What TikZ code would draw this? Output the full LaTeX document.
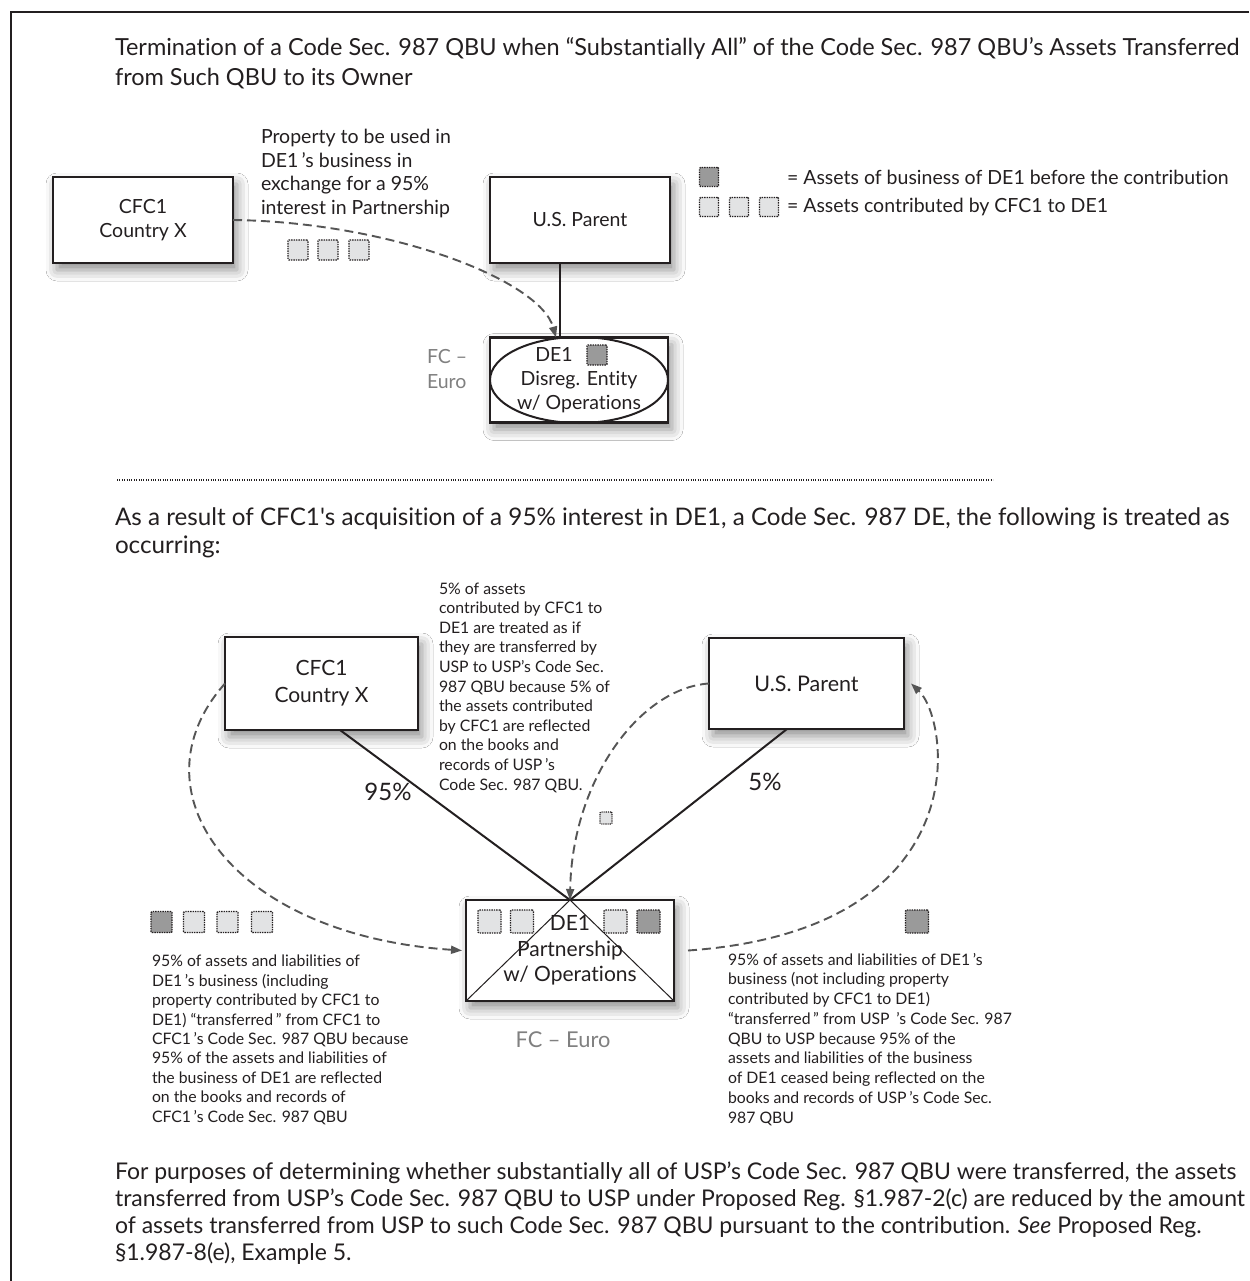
\documentclass[tikz,border=0pt]{standalone}
\usepackage{fontspec}
\setmainfont{Lato}[Ligatures={TeX,NoCommon}]
\usetikzlibrary{arrows.meta,shapes.geometric,shadows.blur,calc}
\definecolor{ink}{HTML}{231F20}
\definecolor{dgray}{HTML}{555555}
\definecolor{sqdark}{HTML}{9A9A9A}
\definecolor{sqlight}{HTML}{E2E3E4}
\definecolor{fcgray}{HTML}{808080}
\begin{document}
\begin{tikzpicture}[x=1pt,y=-1pt,
  every node/.style={inner sep=0pt, outer sep=0pt, text=ink},
  entity/.style={draw=ink, line width=2.5pt, fill=white, minimum width=180pt, minimum height=86pt,
    align=center, font=\fontsize{19.5}{24}\selectfont,
    blur shadow={shadow xshift=4pt, shadow yshift=-7pt, shadow blur radius=11pt, shadow opacity=45}},
  sqd/.style={draw=ink, densely dotted, line width=1.4pt, fill=sqdark, minimum size=20pt, rounded corners=1pt},
  sql/.style={sqd, fill=sqlight},
  flow/.style={draw=dgray, dash pattern=on 9pt off 5pt, line width=1.9pt, -{Triangle[length=11pt,width=8pt]}},
  tie/.style={draw=ink, line width=2pt},
  txt/.style={anchor=north west, align=left},
]
\useasboundingbox (0,0) rectangle (1249,1281);
\fill[white] (0,0) rectangle (1249,1281);
\draw[ink, line width=1.3pt] (1249,12) -- (11,12) -- (11,1281);

% ---------- title
\node[txt, font=\fontsize{23.5}{30}\selectfont] (title) at (115,35)
  {\strut Termination of a Code Sec. 987 QBU when “Substantially All” of the Code Sec. 987 QBU’s Assets Transferred\\from Such QBU to its Owner};

% ---------- top diagram
\node[entity] (cfcA) at (143,220) {CFC1\\Country X};
\node[entity] (uspA) at (580,220) {U.S. Parent};
\node[entity, minimum width=178pt, minimum height=85pt] (de1A) at (579,380) {DE1\hspace*{50pt}\\Disreg. Entity\\w/ Operations};
\node[ellipse, draw=ink, line width=2pt, minimum width=178pt, minimum height=86pt] (ellA) at (de1A.center) {};
\node[sqd] (sqA0) at (597,355) {};
\node[txt, text=fcgray, font=\fontsize{19.5}{25}\selectfont] (fcA) at (427,346) {\strut FC\ –\\Euro};

\coordinate (tA) at ([xshift=-20pt]uspA.south);
\draw[tie, line width=2.3pt] (tA) -- (tA |- de1A.north);
\draw[flow] (cfcA.east) .. controls (390,222) and (540,280) .. ([xshift=-23pt]de1A.north);

\node[txt, font=\fontsize{19.5}{23.7}\selectfont] (prop) at (261,126.8)
  {\strut Property to be used in\\DE1\,’s business in\\exchange for a 95\%\\interest in Partnership};
\node[sql] (pa1) at (298,250) {};
\node[sql] (pa2) at (328,250) {};
\node[sql] (pa3) at (359,250) {};

% legend
\node[sqd, minimum size=19pt] (lg1) at (709,177) {};
\node[anchor=west, font=\fontsize{19.5}{22}\selectfont] (lgt1) at (787,177) {= Assets of business of DE1 before the contribution};
\node[sql, minimum size=19pt] (lg2) at (709,207) {};
\node[sql, minimum size=19pt] (lg3) at (739,207) {};
\node[sql, minimum size=19pt] (lg4) at (769,207) {};
\node[anchor=west, font=\fontsize{19.5}{22}\selectfont] (lgt2) at (787,207) {= Assets contributed by CFC1 to DE1};

% separator
\draw[ink, line width=1.2pt, dash pattern=on 1pt off 1.4pt] (117,480) -- (993,480);

\node[txt, font=\fontsize{24.2}{28}\selectfont] (mid) at (115,505.4)
  {\strut As a result of CFC1\textquotesingle s acquisition of a 95\% interest in DE1, a Code Sec. 987 DE, the following is treated as\\occurring:};

% ---------- bottom diagram
\node[entity, minimum width=193pt, minimum height=93pt, font=\fontsize{21}{27}\selectfont] (cfcB) at (321.5,683.5) {CFC1\\Country X};
\node[entity, minimum width=195pt, minimum height=91pt, font=\fontsize{21.5}{27}\selectfont] (uspB) at (806.5,683.5) {U.S. Parent};
\node[entity, minimum width=208pt, minimum height=101pt, font=\fontsize{21}{25.5}\selectfont] (de1B) at (570,950.5) {DE1\\Partnership\\w/ Operations};
\draw[ink, line width=1pt] (de1B.south west) -- (de1B.north) -- (de1B.south east);

\coordinate (tB1) at ([xshift=18.5pt]cfcB.south);
\coordinate (tB2) at ([xshift=-19.5pt]uspB.south);
\draw[tie] (tB1) -- (de1B.north);
\draw[tie] (tB2) -- (de1B.north);

\node[font=\fontsize{24}{26}\selectfont] (p95) at (388,792) {95\%};
\node[font=\fontsize{24}{26}\selectfont] (p5) at (765,782) {5\%};

\node[sql, minimum size=23pt] (bq1) at (489.5,921.5) {};
\node[sql, minimum size=23pt] (bq2) at (522,921.5) {};
\node[sql, minimum size=23pt] (bq3) at (615.5,921.5) {};
\node[sqd, minimum size=23pt] (bq4) at (648.5,921.5) {};
\node[sql, minimum size=12pt, line width=1.1pt] (smq) at (606,818) {};

\node[text=fcgray, font=\fontsize{21.8}{24}\selectfont] (fcB) at (563,1040) {FC – Euro};

\node[txt, font=\fontsize{15.8}{19.6}\selectfont] (note1) at (439,580.3)
  {\strut 5\% of assets\\contributed by CFC1 to\\DE1 are treated as if\\they are transferred by\\USP to USP’s Code Sec.\\987 QBU because 5\% of\\the assets contributed\\by CFC1 are reflected\\on the books and\\records of USP\,’s\\Code Sec. 987 QBU.};

\node[sqd, minimum size=21pt] (lq1) at (161.5,922) {};
\node[sql, minimum size=21pt] (lq2) at (194,922) {};
\node[sql, minimum size=21pt] (lq3) at (227.5,922) {};
\node[sql, minimum size=21pt] (lq4) at (262,922) {};
\node[txt, font=\fontsize{15.8}{19.4}\selectfont] (note2) at (152,953.4)
  {\strut 95\% of assets and liabilities of\\DE1\,’s business (including\\property contributed by CFC1 to\\DE1)\ “transferred\,” from CFC1 to\\CFC1\,’s Code Sec. 987 QBU because\\95\% of the assets and liabilities of\\the business of DE1 are reflected\\on the books and records of\\CFC1\,’s Code Sec. 987 QBU};

\node[sqd, minimum size=23pt] (rq1) at (917,921.5) {};
\node[txt, font=\fontsize{15.8}{19.75}\selectfont] (note3) at (728,951.2)
  {\strut 95\% of assets and liabilities of DE1\,’s\\business (not including property\\contributed by CFC1 to DE1)\\“transferred\,” from USP\ \,’s Code Sec. 987\\QBU to USP because 95\% of the\\assets and liabilities of the business\\of DE1 ceased being reflected on the\\books and records of USP\,’s Code Sec.\\987 QBU};

\draw[flow] (cfcB.west) .. controls (130,790) and (230,935) .. ([xshift=-4pt]de1B.west);
\draw[flow] (uspB.west) .. controls (640,688) and (572,780) .. (de1B.north);
\draw[flow] ([xshift=14pt]de1B.east) .. controls (980,930) and (950,720) .. ([xshift=7pt]uspB.east);

% ---------- footer
\node[txt, font=\fontsize{23}{27}\selectfont] (foot) at (115,1160.7)
  {\strut For purposes of determining whether substantially all of USP’s Code Sec. 987 QBU were transferred, the assets\\transferred from USP’s Code Sec. 987 QBU to USP under Proposed Reg. §1.987-2(c) are reduced by the amount\\of assets transferred from USP to such Code Sec. 987 QBU pursuant to the contribution. \textit{See} Proposed Reg.\\§1.987-8(e), Example 5.};
\end{tikzpicture}
\end{document}
